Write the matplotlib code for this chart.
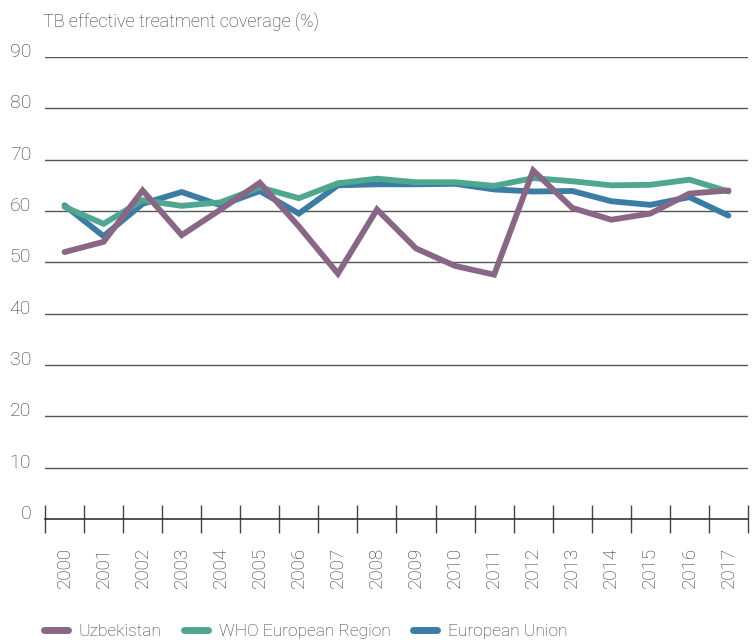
import matplotlib
matplotlib.use("Agg")
import matplotlib.pyplot as plt
from matplotlib.lines import Line2D
import numpy as np

years = [str(y) for y in range(2000, 2018)]
uzbekistan = [52.0, 54.0, 64.0, 55.3, 60.3, 65.5, 57.0, 47.8, 60.3, 52.7,
              49.3, 47.6, 67.9, 60.6, 58.3, 59.5, 63.4, 64.0]
who_europe = [60.8, 57.5, 62.1, 61.0, 61.7, 64.6, 62.5, 65.4, 66.3, 65.6,
              65.6, 64.9, 66.4, 65.8, 65.0, 65.1, 66.1, 63.8]
eu = [61.1, 55.1, 61.4, 63.7, 61.1, 63.9, 59.5, 65.0, 65.2, 65.2,
      65.3, 64.2, 63.8, 63.9, 61.9, 61.2, 62.7, 59.1]
series_names = ["Uzbekistan", "WHO European Region", "European Union"]
yticks = [0, 10, 20, 30, 40, 50, 60, 70, 80, 90]
title = "TB effective treatment coverage (%)"

c_uz = "#8a6686"
c_who = "#4fa790"
c_eu = "#3a7ca4"
txt = "#333333"

plt.rcParams['font.family'] = ['Roboto', 'DejaVu Sans']
plt.rcParams['font.weight'] = 'light'

fig = plt.figure(figsize=(7.53, 6.42), dpi=100)
ax = fig.add_axes([45/753, 1-519/642, 703/753, 462/642])

x = np.arange(len(years))
lw = 4.2
ax.plot(x, eu, color=c_eu, lw=lw, solid_capstyle='round', solid_joinstyle='miter', zorder=3)
ax.plot(x, who_europe, color=c_who, lw=lw, solid_capstyle='round', solid_joinstyle='miter', zorder=4)
ax.plot(x, uzbekistan, color=c_uz, lw=lw, solid_capstyle='round', solid_joinstyle='miter', zorder=5)

ax.set_xlim(-0.5, len(years) - 0.5)
ax.set_ylim(0, 90)

for v in yticks[1:]:
    ax.axhline(v, color="#555555", lw=1.0, zorder=1)
ax.axhline(0, color="#333333", lw=1.2, zorder=2, clip_on=False)

for s in ax.spines.values():
    s.set_visible(False)

ax.set_yticks(yticks)
ax.set_yticklabels([str(v) for v in yticks], fontsize=14, color=txt, va='baseline')
ax.tick_params(axis='y', length=0, pad=10)

# category boundary ticks
bounds = np.arange(len(years) + 1) - 0.5
ax.set_xticks(bounds, minor=False)
ax.set_xticklabels([""] * len(bounds))
ax.tick_params(axis='x', which='major', direction='inout', length=20, width=1.0, color="#444444")
ax.set_xticks(x, minor=True)
ax.set_xticklabels(years, minor=True, rotation=90, fontsize=13.5, color=txt)
ax.tick_params(axis='x', which='minor', length=0, pad=20)

fig.text(43/753, 1-22/642, title, fontsize=13, color=txt, va='center', ha='left')

handles = [Line2D([0], [0], color=c, lw=5, solid_capstyle='round')
           for c in (c_uz, c_who, c_eu)]
fig.legend(handles, series_names, loc='center left', bbox_to_anchor=(0.058, 1-631/642),
           ncol=3, frameon=False, fontsize=12.5, handlelength=1.4, handletextpad=0.6,
           columnspacing=1.3, labelcolor=txt, borderaxespad=0, borderpad=0)

fig.savefig("out.png", dpi=100)
